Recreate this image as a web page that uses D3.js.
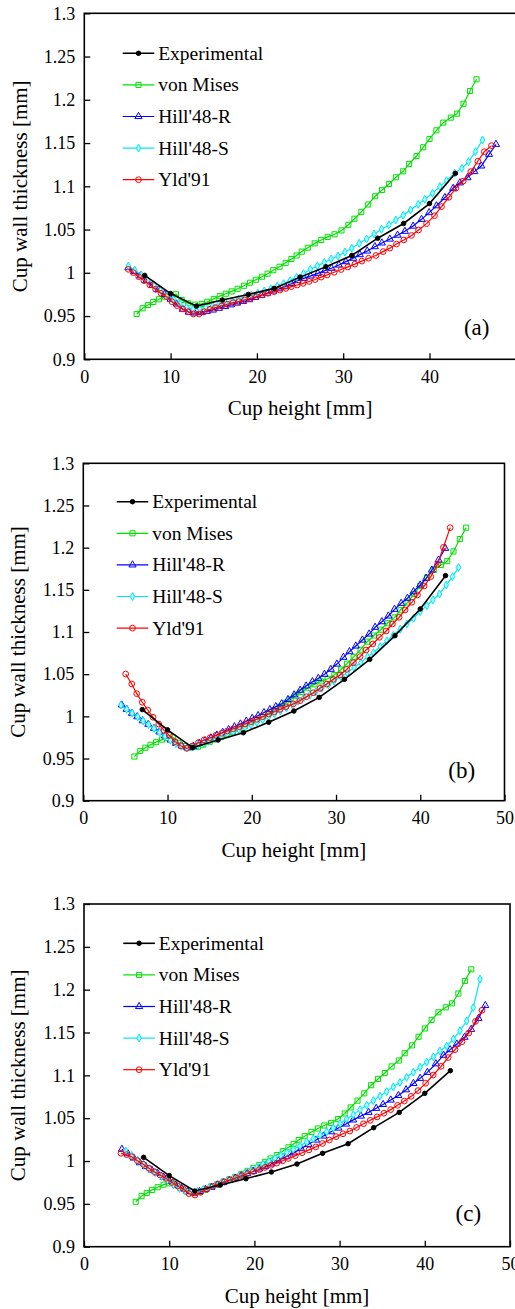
<!DOCTYPE html>
<html>
<head>
<meta charset="utf-8">
<style>
    body {
        margin: 0;
        background: #ffffff;
        font-family: "Liberation Serif", "Times New Roman", serif;
    }
    svg { display: block; }
</style>
<script src="https://cdn.jsdelivr.net/npm/d3@7/dist/d3.min.js"></script>
</head>
<body>
<svg id="grafico"></svg>

<script>
    // ---- datos: [altura (mm), espesor (mm)] ----

    const xTicks = [0, 10, 20, 30, 40, 50];
    const yTicks = [0.9, 0.95, 1, 1.05, 1.1, 1.15, 1.2, 1.25, 1.3];
    const seriesNames = ["Experimental", "von Mises", "Hill'48-R", "Hill'48-S", "Yld'91"];
    const panelLabels = ["(a)", "(b)", "(c)"];

    // medidas experimentales, cada 3 mm
    const expHeight = [7, 10, 13, 16, 19, 22, 25, 28, 31, 34, 37, 40, 43];
    const expThickA = [0.997, 0.976, 0.9615, 0.9685, 0.975, 0.982, 0.995, 1.007, 1.020, 1.040, 1.057, 1.080, 1.115];
    const expThickB = [1.008, 0.984, 0.963, 0.972, 0.9806, 0.993, 1.0063, 1.0225, 1.0439, 1.0676, 1.0957, 1.1273, 1.1668];
    const expThickC = [1.0043, 0.983, 0.965, 0.972, 0.9794, 0.9872, 0.9965, 1.009, 1.0202, 1.0389, 1.0568, 1.079, 1.1054];

    // von Mises: la misma curva en los tres paneles
    const vonMises = [[6.07,0.9524],[6.76,0.959],[7.37,0.9628],[7.99,0.9663],[8.65,0.9694],[9.34,0.9724],[10.0,0.974],[10.62,0.9752],
        [11.28,0.9686],[12.05,0.9647],[12.82,0.9632],[13.6,0.964],[14.25,0.9665],[15.0,0.9698],[15.7,0.973],[16.4,0.9758],
        [17.07,0.9785],[17.76,0.9815],[18.5,0.985],[19.2,0.9885],[19.88,0.992],[20.58,0.9955],[21.24,0.999],[21.9,1.003],
        [22.63,1.007],[23.33,1.0115],[24.0,1.016],[24.6,1.020],[25.2,1.0245],[25.9,1.029],[26.7,1.034],[27.45,1.038],
        [28.2,1.0415],[29.0,1.0445],[29.8,1.049],[30.6,1.0555],[31.3,1.0625],[32.1,1.0705],[32.9,1.079],[33.7,1.0885],
        [34.5,1.0958],[35.3,1.1027],[36.1,1.1104],[36.95,1.1173],[37.64,1.1258],[38.5,1.135],[39.27,1.1451],[40.0,1.1547],
        [40.8,1.1647],[41.6,1.1736],[42.47,1.1794],[43.2,1.184],[43.94,1.1955],[44.7,1.2102],[45.45,1.2237]];

    // panel (a)
    const hillRA = [[5.1,1.006],[5.8,1.0015],[6.5,0.9965],[7.2,0.991],[7.9,0.9855],[8.6,0.9805],[9.3,0.975],[10.0,0.9695],
        [10.7,0.964],[11.4,0.958],[12.1,0.9545],[12.8,0.9535],[13.5,0.954],[14.2,0.9555],[14.9,0.957],[15.6,0.959],
        [16.3,0.961],[17.0,0.963],[17.7,0.965],[18.4,0.967],[19.1,0.969],[19.8,0.9715],[20.5,0.974],[21.2,0.9765],
        [21.9,0.979],[22.6,0.9815],[23.3,0.984],[24.0,0.9875],[24.7,0.991],[25.45,0.9936],[26.22,0.9964],[27.07,0.9994],
        [27.88,1.0025],[28.65,1.0052],[29.5,1.009],[30.31,1.0129],[31.16,1.0168],[31.93,1.021],[32.78,1.0252],[33.67,1.0302],
        [34.48,1.0345],[35.41,1.039],[36.3,1.0435],[37.15,1.048],[38.1,1.054],[39.08,1.0618],[39.96,1.0696],[40.81,1.0775],
        [41.78,1.087],[42.74,1.0977],[43.52,1.104],[44.4,1.110],[45.2,1.117],[46.0,1.1235],[46.9,1.137],[47.7,1.1485]];
    const hillSA = [[5.1,1.0079],[5.85,1.003],[6.6,0.9975],[7.35,0.9915],[8.1,0.9855],[8.85,0.9795],[9.6,0.974],[10.35,0.969],
        [11.1,0.964],[11.85,0.960],[12.6,0.958],[13.35,0.9585],[14.1,0.960],[14.85,0.9615],[15.6,0.9635],[16.35,0.9655],
        [17.1,0.9675],[17.85,0.9697],[18.6,0.972],[19.35,0.9742],[20.1,0.9765],[20.85,0.979],[21.6,0.9815],[22.35,0.9845],
        [23.1,0.9875],[23.85,0.991],[24.6,0.995],[25.4,0.999],[26.2,1.004],[27.0,1.008],[27.8,1.012],[28.6,1.016],
        [29.4,1.0195],[30.2,1.024],[31.0,1.0285],[31.85,1.0341],[32.71,1.0391],[33.59,1.0449],[34.44,1.0503],[35.29,1.0553],
        [36.1,1.0611],[36.95,1.0665],[37.8,1.0726],[38.69,1.0792],[39.46,1.085],[40.35,1.0919],[41.2,1.0996],[41.97,1.1065],
        [42.9,1.115],[43.75,1.1208],[44.52,1.1285],[45.33,1.14],[46.14,1.1536]];
    const yldA = [[5.1,1.004],[5.68,1.0002],[6.3,0.9955],[6.91,0.991],[7.6,0.986],[8.26,0.981],[8.88,0.9763],[9.54,0.9724],
        [10.15,0.9666],[10.77,0.962],[11.4,0.9582],[12.05,0.955],[12.63,0.9524],[13.29,0.9524],[13.9,0.955],[14.56,0.9578],
        [15.2,0.9597],[15.9,0.9617],[16.57,0.9636],[17.26,0.9655],[17.9,0.9667],[18.6,0.9686],[19.27,0.9705],[19.96,0.9724],
        [20.66,0.9744],[21.3,0.9763],[22.0,0.9782],[22.66,0.9801],[23.36,0.982],[24.0,0.984],[24.67,0.9859],[25.35,0.9878],
        [26.05,0.990],[26.75,0.9922],[27.45,0.995],[28.14,0.9975],[28.95,1.0006],[29.76,1.0038],[30.54,1.0068],[31.35,1.010],
        [32.16,1.0135],[32.94,1.0168],[33.79,1.020],[34.63,1.0245],[35.4,1.0285],[36.18,1.0332],[37.03,1.038],[37.92,1.0432],
        [38.73,1.0495],[39.66,1.0568],[40.58,1.066],[41.39,1.0765],[42.24,1.0873],[43.05,1.0977],[43.9,1.106],[44.79,1.117],
        [45.6,1.129],[46.35,1.140],[47.18,1.147]];

    // panel (b)
    const hillRB = [[4.56,1.0135],[5.15,1.0084],[5.78,1.0036],[6.41,0.9996],[7.05,0.9948],[7.72,0.9906],[8.4,0.9858],[9.03,0.9815],
        [9.7,0.9767],[10.38,0.972],[11.0,0.968],[11.69,0.9649],[12.35,0.9628],[13.06,0.9645],[13.77,0.968],[14.45,0.9712],
        [15.15,0.9745],[15.85,0.9778],[16.55,0.981],[17.25,0.9843],[17.95,0.9877],[18.65,0.991],[19.35,0.9943],[20.05,0.9977],
        [20.75,1.001],[21.45,1.0045],[22.15,1.008],[22.85,1.0115],[23.55,1.015],[24.3,1.020],[25.03,1.0255],[25.74,1.031],
        [26.45,1.036],[27.2,1.0411],[27.9,1.0451],[28.63,1.0499],[29.38,1.0558],[30.1,1.062],[30.88,1.07],[31.6,1.0767],
        [32.35,1.0834],[33.13,1.0905],[33.93,1.0976],[34.64,1.1056],[35.44,1.1122],[36.22,1.119],[36.94,1.1269],[37.73,1.134],
        [38.48,1.14],[39.2,1.1478],[39.99,1.1557],[40.7,1.1636],[41.38,1.1735],[42.17,1.1854],[42.96,1.1992]];
    const hillSB = [[4.47,1.0134],[5.15,1.0084],[5.8,1.0036],[6.45,0.9994],[7.1,0.9946],[7.75,0.9902],[8.4,0.9856],[9.05,0.981],
        [9.7,0.9763],[10.35,0.9717],[11.0,0.9676],[11.65,0.9645],[12.3,0.9628],[12.95,0.9635],[13.6,0.9658],[14.3,0.9683],
        [15.0,0.9707],[15.7,0.973],[16.4,0.9765],[17.1,0.979],[17.8,0.9818],[18.5,0.9845],[19.2,0.9872],[19.9,0.990],
        [20.6,0.993],[21.3,0.996],[22.0,0.9995],[22.7,1.003],[23.4,1.0065],[24.1,1.010],[24.8,1.014],[25.5,1.018],
        [26.2,1.0222],[26.9,1.0255],[27.6,1.029],[28.3,1.0332],[29.1,1.0372],[29.77,1.0419],[30.57,1.047],[31.35,1.0518],
        [32.15,1.0581],[32.94,1.0636],[33.73,1.0707],[34.44,1.0755],[35.24,1.0826],[36.03,1.0897],[36.82,1.0964],[37.62,1.1032],
        [38.41,1.1095],[39.2,1.1162],[39.99,1.1241],[40.78,1.1312],[41.5,1.138],[42.28,1.145],[43.08,1.1557],[43.83,1.1656],
        [44.54,1.1765]];
    const yldB = [[5.03,1.0502],[5.75,1.0384],[6.34,1.0269],[7.0,1.0167],[7.65,1.0075],[8.28,0.9989],[8.95,0.9909],[9.58,0.9834],
        [10.21,0.9775],[10.89,0.970],[11.57,0.9652],[12.28,0.9621],[12.95,0.9648],[13.66,0.9688],[14.33,0.972],[15.05,0.9747],
        [15.76,0.9775],[16.43,0.9799],[17.1,0.9826],[17.81,0.9853],[18.53,0.9877],[19.2,0.9909],[19.92,0.9937],[20.59,0.9965],
        [21.3,0.9996],[22.02,1.0028],[22.68,1.0055],[23.36,1.0083],[24.07,1.0115],[24.94,1.0148],[25.73,1.0186],[26.5,1.0233],
        [27.3,1.028],[28.1,1.0332],[28.9,1.0383],[29.69,1.0439],[30.48,1.049],[31.27,1.0557],[32.07,1.0636],[32.86,1.0708],
        [33.57,1.0787],[34.36,1.0858],[35.15,1.0937],[35.95,1.1012],[36.7,1.1095],[37.49,1.1174],[38.2,1.1261],[39.0,1.1352],
        [39.67,1.1439],[40.46,1.1545],[41.25,1.1656],[42.04,1.1802],[42.75,1.2004],[43.55,1.2237]];

    // panel (c)
    const hillRC = [[4.45,1.0137],[5.15,1.0085],[5.85,1.0035],[6.55,0.998],[7.25,0.9935],[7.95,0.9895],[8.65,0.9855],[9.35,0.981],
        [10.05,0.9765],[10.75,0.972],[11.45,0.968],[12.15,0.9645],[12.85,0.9625],[13.55,0.9645],[14.25,0.967],[14.95,0.9695],
        [15.65,0.9722],[16.35,0.9748],[17.05,0.9773],[17.75,0.98],[18.45,0.9827],[19.15,0.9853],[19.85,0.988],[20.55,0.9907],
        [21.25,0.9935],[21.96,0.9965],[22.82,1.0005],[23.72,1.005],[24.58,1.0095],[25.48,1.0145],[26.34,1.0195],[27.24,1.0245],
        [28.1,1.0292],[29.0,1.0342],[29.86,1.0385],[30.76,1.0432],[31.6,1.048],[32.5,1.0525],[33.4,1.0568],[34.3,1.0615],
        [35.1,1.066],[36.0,1.0712],[36.9,1.0765],[37.8,1.0832],[38.67,1.0905],[39.45,1.0965],[40.3,1.1035],[41.3,1.1135],
        [42.2,1.1235],[42.97,1.130],[43.76,1.1366],[44.66,1.1445],[45.44,1.1537],[46.3,1.1665],[47.1,1.1815]];
    const hillSC = [[4.9,1.0115],[5.6,1.0065],[6.3,1.001],[7.0,0.996],[7.7,0.991],[8.4,0.9865],[9.1,0.982],[9.8,0.9775],
        [10.5,0.9725],[11.2,0.968],[11.9,0.965],[12.6,0.9635],[13.3,0.9645],[14.0,0.967],[14.7,0.9695],[15.4,0.972],
        [16.1,0.9747],[16.8,0.9773],[17.5,0.98],[18.2,0.9828],[18.9,0.9858],[19.6,0.989],[20.3,0.9925],[21.0,0.996],
        [21.7,0.9995],[22.4,1.003],[23.1,1.0065],[23.8,1.010],[24.57,1.0137],[25.35,1.0177],[26.14,1.0222],[26.91,1.026],
        [27.7,1.0303],[28.49,1.0342],[29.26,1.0386],[30.05,1.0436],[30.83,1.049],[31.61,1.0542],[32.4,1.06],[33.18,1.0652],
        [33.96,1.0705],[34.74,1.0758],[35.53,1.081],[36.3,1.0866],[37.09,1.0918],[37.87,1.0977],[38.65,1.1036],[39.44,1.1095],
        [40.22,1.1155],[41.0,1.1215],[41.78,1.1285],[42.57,1.1342],[43.35,1.1424],[44.13,1.1521],[44.92,1.1634],[45.69,1.179],
        [46.48,1.2125]];
    const yldC = [[4.34,1.009],[5.0,1.0075],[5.6,1.005],[6.26,1.0004],[6.96,0.9962],[7.63,0.9915],[8.26,0.9875],[8.92,0.9837],
        [9.62,0.9798],[10.29,0.9751],[11.0,0.9708],[11.66,0.9672],[12.32,0.962],[13.03,0.9603],[13.7,0.9635],[14.4,0.967],
        [15.1,0.9705],[15.76,0.973],[16.47,0.9756],[17.14,0.978],[17.84,0.9805],[18.51,0.983],[19.21,0.9855],[19.87,0.9878],
        [20.58,0.990],[21.24,0.9925],[21.95,0.995],[22.62,0.9975],[23.32,1.0003],[23.98,1.003],[24.8,1.0063],[25.6,1.0097],
        [26.4,1.013],[27.2,1.0165],[28.0,1.0205],[28.8,1.0245],[29.6,1.0285],[30.4,1.0318],[31.2,1.035],[32.0,1.0392],
        [32.8,1.0435],[33.6,1.0475],[34.4,1.0515],[35.2,1.0558],[36.0,1.060],[36.8,1.065],[37.6,1.070],[38.4,1.0755],
        [39.2,1.0822],[40.1,1.0907],[41.0,1.1004],[41.9,1.1105],[42.75,1.1208],[43.55,1.130],[44.37,1.1393],[45.15,1.1494],
        [45.95,1.163],[46.72,1.176]];


    // ---- estilos de cada serie (mismo orden que seriesNames) ----
    const estilos = [
        { color: "#000000", simbolo: d3.symbolCircle,   area: 16, relleno: "#000000" },
        { color: "#00e000", simbolo: d3.symbolSquare,   area: 26, relleno: "none" },
        { color: "#0000ff", simbolo: d3.symbolTriangle, area: 22, relleno: "none" },
        { color: "#00e8f0", simbolo: d3.symbolDiamond,  area: 18, relleno: "#a8f6ff" },
        { color: "#ff0000", simbolo: d3.symbolCircle,   area: 26, relleno: "none" }
    ];

    // ---- posicion de cada panel en la ventana ----
    const paneles = [
        { left: 84.3, top: 13.3, right: 515.8, bottom: 359.3, leyenda: [122.7, 53.3], etiqueta: [476.7, 327], tituloY: 20,
          series: [expHeight.map((h, i) => [h, expThickA[i]]), vonMises, hillRA, hillSA, yldA] },
        { left: 83.3, top: 463.3, right: 504.5, bottom: 800.7, leyenda: [116.7, 501.7], etiqueta: [461.7, 770], tituloY: 18,
          series: [expHeight.map((h, i) => [h, expThickB[i]]), vonMises, hillRB, hillSB, yldB] },
        { left: 84, top: 904, right: 510, bottom: 1246.7, leyenda: [123.3, 943.3], etiqueta: [468.3, 1213.5], tituloY: 18,
          series: [expHeight.map((h, i) => [h, expThickC[i]]), vonMises, hillRC, hillSC, yldC] }
    ];

    const svg = d3.select("#grafico").attr("width", 515).attr("height", 1309)
        .style("font-family", "'Liberation Serif', 'Times New Roman', serif");

    function dibujarMarcador(g, estilo, x, y) {
        g.append("path")
            .attr("d", d3.symbol().type(estilo.simbolo).size(estilo.area)())
            .attr("transform", `translate(${x},${y})`)
            .attr("fill", estilo.relleno)
            .attr("stroke", estilo.color)
            .attr("stroke-width", 1);
    }

    function dibujarPanel(p, indice) {
        let escalaX = d3.scaleLinear().domain([0, 50]).range([p.left, p.right]);
        let escalaY = d3.scaleLinear().domain([0.9, 1.3]).range([p.bottom, p.top]);
        let g = svg.append("g");

        // ejes con marcas hacia dentro; en (a) el "50" queda fuera de la imagen
        let ejeX = d3.axisBottom(escalaX).tickValues(xTicks).tickSize(-6).tickPadding(11)
            .tickFormat(d => (indice === 0 && d === 50) ? "" : String(d));
        let ejeY = d3.axisLeft(escalaY).tickValues(yTicks).tickSize(-6).tickPadding(9).tickFormat(d => String(d));

        let gx = g.append("g").attr("transform", `translate(0,${p.bottom})`).call(ejeX);
        let gy = g.append("g").attr("transform", `translate(${p.left},0)`).call(ejeY);
        [gx, gy].forEach(a => {
            a.attr("font-family", null);
            a.select(".domain").remove();
            a.selectAll("line").attr("stroke", "#000").attr("stroke-width", 1.3);
            a.selectAll("text").attr("font-size", 18).attr("fill", "#000");
        });

        // marco
        g.append("rect")
            .attr("x", p.left).attr("y", p.top)
            .attr("width", p.right - p.left).attr("height", p.bottom - p.top)
            .attr("fill", "none").attr("stroke", "#000").attr("stroke-width", 1.6);

        // curvas: primero las simulaciones, la experimental encima
        let linea = d3.line().x(d => escalaX(d[0])).y(d => escalaY(d[1]));
        [1, 2, 3, 4, 0].forEach(s => {
            let estilo = estilos[s];
            let gs = g.append("g");
            gs.append("path")
                .attr("d", linea(p.series[s]))
                .attr("fill", "none")
                .attr("stroke", estilo.color)
                .attr("stroke-width", s === 0 ? 1.6 : 1.2);
            p.series[s].forEach(d => dibujarMarcador(gs, estilo, escalaX(d[0]), escalaY(d[1])));
        });

        // leyenda
        seriesNames.forEach((nombre, i) => {
            let [lx, ly] = p.leyenda;
            let y = ly + i * 31.6;
            let estilo = estilos[i];
            g.append("line")
                .attr("x1", lx).attr("x2", lx + 31.6).attr("y1", y).attr("y2", y)
                .attr("stroke", estilo.color).attr("stroke-width", i === 0 ? 1.6 : 1.2);
            dibujarMarcador(g, estilo, lx + 15.8, y);
            g.append("text")
                .attr("x", lx + 35.5).attr("y", y)
                .attr("dominant-baseline", "central")
                .attr("font-size", 19.5)
                .text(nombre);
        });

        // titulos de los ejes
        g.append("text")
            .attr("x", (p.left + p.right) / 2).attr("y", p.bottom + 49)
            .attr("text-anchor", "middle").attr("dominant-baseline", "central")
            .attr("font-size", 21)
            .text("Cup height [mm]");
        g.append("text")
            .attr("transform", `translate(${p.tituloY},${(p.top + p.bottom) / 2}) rotate(-90)`)
            .attr("text-anchor", "middle").attr("dominant-baseline", "central")
            .attr("font-size", 21)
            .text("Cup wall thickness [mm]");

        // etiqueta del panel
        g.append("text")
            .attr("x", p.etiqueta[0]).attr("y", p.etiqueta[1])
            .attr("text-anchor", "middle").attr("dominant-baseline", "central")
            .attr("font-size", 23)
            .text(panelLabels[indice]);
    }

    paneles.forEach(dibujarPanel);
</script>
</body>
</html>
